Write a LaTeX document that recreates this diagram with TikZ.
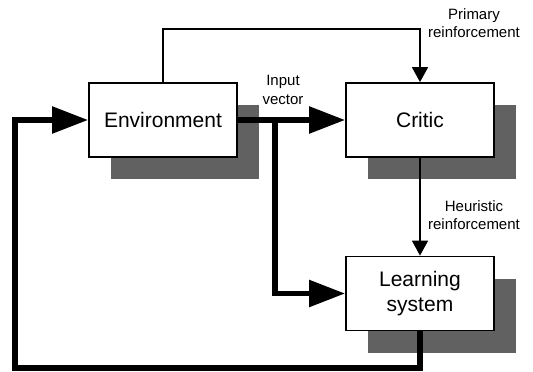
\documentclass[tikz,border=0pt]{standalone}
\usepackage{fontspec}
\setmainfont{Liberation Sans}
\usetikzlibrary{arrows.meta,shadows}
\begin{document}
\begin{tikzpicture}[x=1pt,y=-1pt,
  box/.style={draw,line width=1.8pt,fill=white,minimum width=148pt,minimum height=74pt,
    inner sep=0pt,align=center,font=\fontsize{21}{25}\selectfont,
    general shadow={fill=black!62,shadow xshift=22pt,shadow yshift=-22pt}},
  lbl/.style={align=center,font=\fontsize{15}{18.5}\selectfont,inner sep=0pt},
  thinflow/.style={line width=1.8pt,-{Triangle[length=15pt,width=16pt]}},
  thickflow/.style={line width=5.5pt,-{Triangle[length=36pt,width=26pt]}}]
  \useasboundingbox (0,0) rectangle (533,372);

  % blocks
  \node[box] (env) at (163,120) {Environment};
  \node[box] (critic) at (420,120) {Critic};
  \node[box] (learn) at (420,293.5) {Learning\\system};

  % primary reinforcement, environment to critic
  \draw[thinflow] (env.north) -- ++(0,-53) -| (critic.north);
  \node[lbl] (prim) at (474,23) {Primary\\reinforcement};

  % input vector to critic and learning system
  \draw[thickflow] (env.east) -- (critic.west);
  \coordinate (split) at (275,120);
  \draw[thickflow] (split) |- (learn.west);
  \node[lbl] (inp) at (283,90) {Input\\vector};

  % heuristic reinforcement
  \draw[thinflow] (critic.south) -- (learn.north);
  \node[lbl] (heur) at (474,215) {Heuristic\\reinforcement};

  % feedback loop back to the environment
  \coordinate (loop) at (15,368);
  \draw[thickflow] (learn.south) |- (loop) |- (env.west);
\end{tikzpicture}
\end{document}
